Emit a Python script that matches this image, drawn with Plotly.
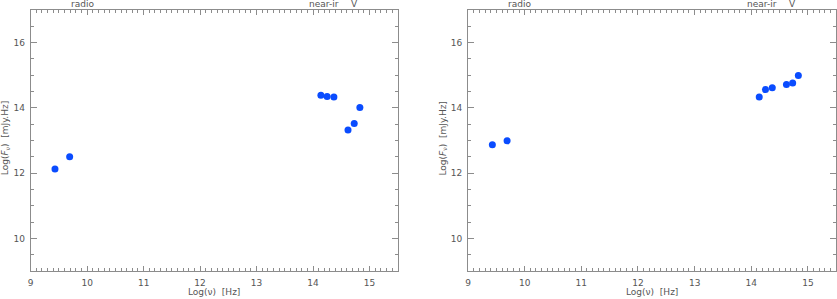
import plotly.graph_objects as go

# Data
log_nu = [9.43, 9.69, 14.14, 14.25, 14.37, 14.62, 14.73, 14.83]
log_fnu_left = [12.13, 12.50, 14.39, 14.35, 14.33, 13.32, 13.52, 14.01]
log_fnu_right = [12.87, 12.99, 14.33, 14.56, 14.62, 14.72, 14.76, 14.99]
band_labels = ["radio", "near-ir", "V"]
band_positions = [9.91, 14.19, 14.73]

x_title = "Log(ν)  [Hz]"
y_title = "Log(<i>F</i><sub>ν</sub>)  [mJy.Hz]"

W, H = 837, 299
fig = go.Figure()

marker = dict(color="#0a4cff", size=7, line=dict(width=0))
fig.add_trace(go.Scatter(x=log_nu, y=log_fnu_left, mode="markers", marker=marker,
                         xaxis="x", yaxis="y", showlegend=False, hoverinfo="skip"))
fig.add_trace(go.Scatter(x=log_nu, y=log_fnu_right, mode="markers", marker=marker,
                         xaxis="x2", yaxis="y2", showlegend=False, hoverinfo="skip"))

axcol = "#8c8c8c"
font = dict(family="DejaVu Sans", size=9, color="#555555")

def xaxis(domain, anchor):
    return dict(domain=domain, anchor=anchor, range=[9, 15.5], dtick=1, tick0=9,
                ticks="inside", ticklen=5, tickcolor=axcol, tickwidth=1,
                minor=dict(dtick=0.1, ticks="inside", ticklen=3, tickcolor=axcol),
                showline=True, linecolor=axcol, linewidth=1, mirror="ticks",
                showgrid=False, zeroline=False, tickfont=font, ticklabelstandoff=3,
                automargin=False, fixedrange=True)

def yaxis(anchor):
    return dict(domain=[0, 1], anchor=anchor, range=[9, 17], dtick=2, tick0=10,
                ticks="inside", ticklen=6, tickcolor=axcol, tickwidth=1,
                minor=dict(dtick=0.5, ticks="inside", ticklen=3, tickcolor=axcol),
                showline=True, linecolor=axcol, linewidth=1, mirror="ticks",
                showgrid=False, zeroline=False, tickfont=font, ticklabelstandoff=3,
                automargin=False, fixedrange=True)

xd1 = [30.7 / W, 397.7 / W]
xd2 = [468.0 / W, 836.3 / W]

fig.update_layout(
    width=W, height=H,
    margin=dict(l=0, r=0, t=10, b=28, autoexpand=False),
    paper_bgcolor="white", plot_bgcolor="white",
    xaxis=xaxis(xd1, "y"), yaxis=yaxis("x"),
    xaxis2=xaxis(xd2, "y2"), yaxis2=yaxis("x2"),
    font=font,
)

ann = []
for xr, xd in (("x", xd1), ("x2", xd2)):
    for lab, pos in zip(band_labels, band_positions):
        ann.append(dict(x=pos, xref=xr, xanchor="center", y=1, yref="paper",
                        yanchor="bottom", text=lab, showarrow=False, font=font, yshift=-1))
    ann.append(dict(x=(xd[0] + xd[1]) / 2, xref="paper", xanchor="center", y=0,
                    yref="paper", yanchor="top", yshift=-14, text=x_title,
                    showarrow=False, font=font))
    ann.append(dict(x=xd[0], xref="paper", xanchor="center", xshift=-25, y=0.5,
                    yref="paper", yanchor="middle", yshift=2, text=y_title,
                    textangle=-90, showarrow=False, font=font))
fig.update_layout(annotations=ann)

fig.write_html("out.html", config={"displayModeBar": False},
               post_script="document.body.style.margin='0';document.body.style.overflow='hidden';")
